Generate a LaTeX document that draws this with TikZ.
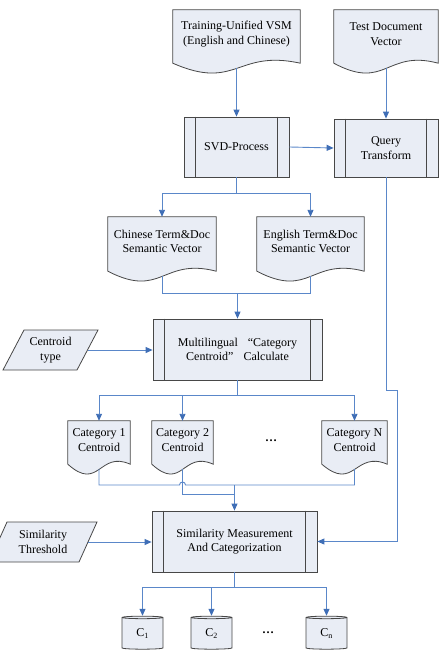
\documentclass[tikz,border=0pt]{standalone}
\usepackage{fontspec}
\setmainfont{Liberation Serif}
\usetikzlibrary{arrows.meta,shapes.geometric,backgrounds}

\definecolor{boxfill}{HTML}{E9EDF5}
\definecolor{bordc}{HTML}{474747}
\definecolor{linkc}{HTML}{5A87C9}
\definecolor{tipc}{HTML}{3F6EB6}

% outline of a flow-chart "document": flat top, wavy bottom below the node
\newcommand\flowdoc[1]{(#1.north west) -- (#1.north east) -- ([yshift=-5pt]#1.south east)
  .. controls ([yshift=9pt]#1.south) and ([yshift=-33pt]#1.south) .. ([yshift=-5pt]#1.south west) -- cycle}

\begin{document}
\begin{tikzpicture}[x=1pt,y=-1pt,
  every node/.style={font=\fontsize{12}{14.5}\selectfont, align=center, inner sep=1pt},
  bord/.style={draw=bordc, line width=0.8pt},
  doctext/.style={rectangle, draw=none},
  docshape/.style={bord, fill=boxfill},
  proc/.style={rectangle, bord, fill=boxfill,
    append after command={
      ([xshift=12pt]\tikzlastnode.north west) edge[bord] ([xshift=12pt]\tikzlastnode.south west)
      ([xshift=-12pt]\tikzlastnode.north east) edge[bord] ([xshift=-12pt]\tikzlastnode.south east)}},
  cyl/.style={cylinder, shape border rotate=90, aspect=0.2, bord, fill=boxfill,
    minimum width=41pt, minimum height=33pt, inner sep=0pt},
  link/.style={draw=linkc, line width=0.9pt},
  arr/.style={link, -{Triangle[length=7pt,width=6pt,color=tipc]}},
  dots/.style={font=\fontsize{12}{14}\selectfont\bfseries}
]
\clip (0,0) rectangle (439,660);

% inputs
\node[doctext, minimum width=127pt, minimum height=48pt] (train) at (236.5,34)
  {Training-Unified VSM\\(English and Chinese)};
\node[doctext, minimum width=104pt, minimum height=48pt] (test) at (386,34)
  {Test Document\\Vector};

% processing
\node[proc, minimum width=105pt, minimum height=60pt] (svd) at (236.5,147) {SVD-Process};
\node[proc, minimum width=104pt, minimum height=58pt] (query) at (386,148) {Query\\Transform};

\node[doctext, minimum width=108pt, minimum height=49pt] (chinese) at (162,241.5)
  {Chinese Term\&Doc\\Semantic Vector};
\node[doctext, minimum width=107pt, minimum height=49pt] (english) at (310.5,241.5)
  {English Term\&Doc\\Semantic Vector};

\node[proc, minimum width=169pt, minimum height=61pt] (multi) at (237.5,349.5)
  {Multilingual\hspace{10pt}“Category\\Centroid”\hspace{10pt}Calculate};
\node[doctext, minimum width=74pt, minimum height=38pt] (ctype) at (50.5,350) {Centroid\\type};

% centroids
\node[doctext, minimum width=62pt, minimum height=38pt] (cat1) at (99,440) {Category 1\\Centroid};
\node[doctext, minimum width=61pt, minimum height=38pt] (cat2) at (182.5,440) {Category 2\\Centroid};
\node[doctext, minimum width=65pt, minimum height=38pt] (catN) at (354.5,440) {Category N\\Centroid};
\node[dots] (dotsA) at (271,441) {…};

% categorization
\node[proc, minimum width=165pt, minimum height=61pt] (sim) at (234.5,541.5)
  {Similarity Measurement\\And Categorization};
\node[doctext, minimum width=90pt, minimum height=38pt] (sthr) at (43,542) {Similarity\\Threshold};

% result classes
\node[cyl] (c1) at (142.5,633.5) {\raisebox{-3pt}{C\textsubscript{1}}};
\node[cyl] (c2) at (211.5,633.5) {\raisebox{-3pt}{C\textsubscript{2}}};
\node[cyl] (cn) at (326.5,633.5) {\raisebox{-3pt}{C\textsubscript{n}}};
\node[dots] (dotsB) at (268,633) {…};

% shapes behind the texts
\begin{scope}[on background layer]
  \draw[docshape] \flowdoc{train};
  \draw[docshape] \flowdoc{test};
  \draw[docshape] \flowdoc{chinese};
  \draw[docshape] \flowdoc{english};
  \draw[docshape] \flowdoc{cat1};
  \draw[docshape] \flowdoc{cat2};
  \draw[docshape] \flowdoc{catN};
  \draw[docshape] ([shift={(-26.5,-20)}]ctype.center) -- ([shift={(47.5,-20)}]ctype.center)
    -- ([shift={(26.5,20)}]ctype.center) -- ([shift={(-47.5,20)}]ctype.center) -- cycle;
  \draw[docshape] ([shift={(-36,-20)}]sthr.center) -- ([shift={(54,-20)}]sthr.center)
    -- ([shift={(36,20)}]sthr.center) -- ([shift={(-54,20)}]sthr.center) -- cycle;
\end{scope}

% junction points
\coordinate (s1) at (236.5,193);
\coordinate (m1) at (237.5,293);
\coordinate (s2) at (237.5,395);
\coordinate (b1) at (179.5,485);
\coordinate (j2) at (234.5,485);
\coordinate (j3) at (234.5,494);
\coordinate (q1) at (386,390);
\coordinate (q2) at (397,390);
\coordinate (s3) at (234.5,587);

% connectors
\draw[arr] ([yshift=-10pt]train.south) -- (svd.north);
\draw[arr] ([yshift=-10pt]test.south) -- (query.north);
\draw[arr] (svd.east) -- (query.west);
\draw[link] (svd.south) -- (s1);
\draw[arr] (s1) -| (chinese.north);
\draw[arr] (s1) -| (english.north);
\draw[link] ([yshift=-10pt]chinese.south) |- (m1);
\draw[link] ([yshift=-10pt]english.south) |- (m1);
\draw[arr] (m1) -- (multi.north);
\draw[arr] (ctype.east) -- (ctype.east -| multi.west);
\draw[link] (multi.south) -- (s2);
\draw[arr] (s2) -| (cat1.north);
\draw[arr] (s2) -| (cat2.north);
\draw[arr] (s2) -| (catN.north);
\draw[link] ([yshift=-10pt]cat1.south) |- (b1) arc[start angle=180, end angle=360, radius=3]
  -| ([yshift=-10pt]catN.south);
\draw[link] ([yshift=-10pt]cat2.south) |- (j3);
\draw[arr] (j2) -- (sim.north);
\draw[arr] (sthr.east) -- (sthr.east -| sim.west);
\draw[arr] (query.south) -- (q1) -- (q2) |- (sim.east);
\draw[link] (sim.south) -- (s3);
\draw[arr] (s3) -| (c1.north);
\draw[arr] (s3) -| (c2.north);
\draw[arr] (s3) -| (cn.north);
\end{tikzpicture}
\end{document}
